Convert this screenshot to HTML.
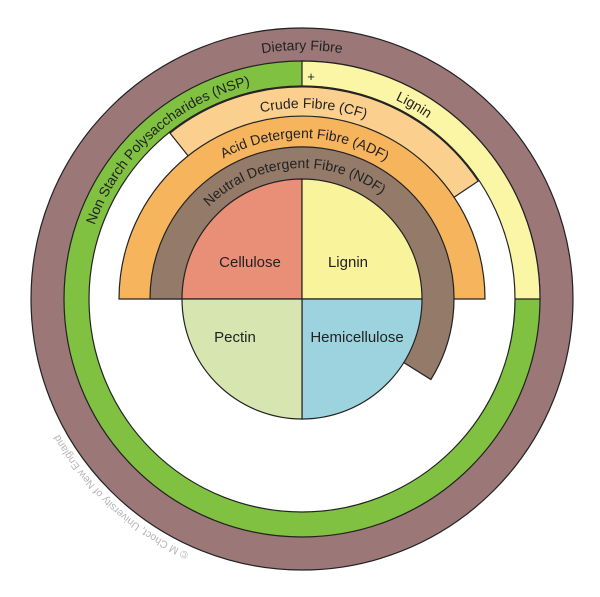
<!DOCTYPE html>
<html><head><meta charset="utf-8"><style>
html,body{margin:0;padding:0;background:#fff;}
svg{display:block;font-family:"Liberation Sans",sans-serif;}
</style></head><body>
<svg width="600" height="597" viewBox="0 0 600 597" xmlns="http://www.w3.org/2000/svg">
<defs>
<path id="pDF" d="M177.5,83.4 A249 249 0 0 1 426.5,83.4"/>
<path id="pNSP" d="M82,299 A220 220 0 0 1 325,80.2"/>
<path id="pLig" d="M263.8,82.3 A220 220 0 0 1 508.7,223.8"/>
<path id="pCF" d="M179.2,152.7 A191 191 0 0 1 441.7,168.7"/>
<path id="pADF" d="M178.7,195.5 A161 161 0 0 1 428.9,199.9"/>
<path id="pNDF" d="M188.6,233.5 A131 131 0 0 1 405.2,218.3"/>
<path id="pCopy" d="M188.9,553 A278 278 0 0 1 40.8,394.1"/>
</defs>
<g stroke="#222" stroke-width="1.2">
<circle cx="302" cy="299" r="271" fill="#9b7777"/>
<circle cx="302" cy="299" r="238" fill="#80c141"/>
<path d="M302,299 L302,61 A238 238 0 0 1 540,299 Z" fill="#fbf5a6"/>
<circle cx="302" cy="299" r="213" fill="#fff"/>
<path d="M302,299 L170,133.1 A212 212 0 0 1 478.2,181.1 Z" fill="#fbd08e"/>
<path d="M119,299 A183 183 0 0 1 485,299 Z" fill="#f6b45c"/>
<path d="M302,299 L150,299 A152 152 0 1 1 430.9,379.5 Z" fill="#947a68"/>
<path d="M302,299 L182,299 A120 120 0 0 1 302,179 Z" fill="#e98f78"/>
<path d="M302,299 L302,179 A120 120 0 0 1 422,299 Z" fill="#f9f39c"/>
<path d="M302,299 L422,299 A120 120 0 0 1 302,419 Z" fill="#9dd3df"/>
<path d="M302,299 L302,419 A120 120 0 0 1 182,299 Z" fill="#d7e6b1"/>
</g>
<g fill="#222" font-size="14">
<text><textPath href="#pDF" startOffset="50%" text-anchor="middle">Dietary Fibre</textPath></text>
<text><textPath href="#pNSP" startOffset="50%" text-anchor="middle">Non Starch Polysaccharides (NSP)</textPath></text>
<text><textPath href="#pLig" startOffset="50%" text-anchor="middle">Lignin</textPath></text>
<text><textPath href="#pCF" startOffset="50%" text-anchor="middle">Crude Fibre (CF)</textPath></text>
<text><textPath href="#pADF" startOffset="50%" text-anchor="middle">Acid Detergent Fibre (ADF)</textPath></text>
<text><textPath href="#pNDF" startOffset="50%" text-anchor="middle">Neutral Detergent Fibre (NDF)</textPath></text>
<text x="311" y="81" text-anchor="middle" font-size="13">+</text>
<text x="250" y="267" text-anchor="middle" font-size="15">Cellulose</text>
<text x="348" y="267" text-anchor="middle" font-size="15">Lignin</text>
<text x="235" y="342" text-anchor="middle" font-size="15">Pectin</text>
<text x="357" y="342" text-anchor="middle" font-size="15">Hemicellulose</text>
</g>
<text fill="#b5b5b5" font-size="10.5"><textPath href="#pCopy">© M Choct, University of New England</textPath></text>
</svg>
</body></html>
